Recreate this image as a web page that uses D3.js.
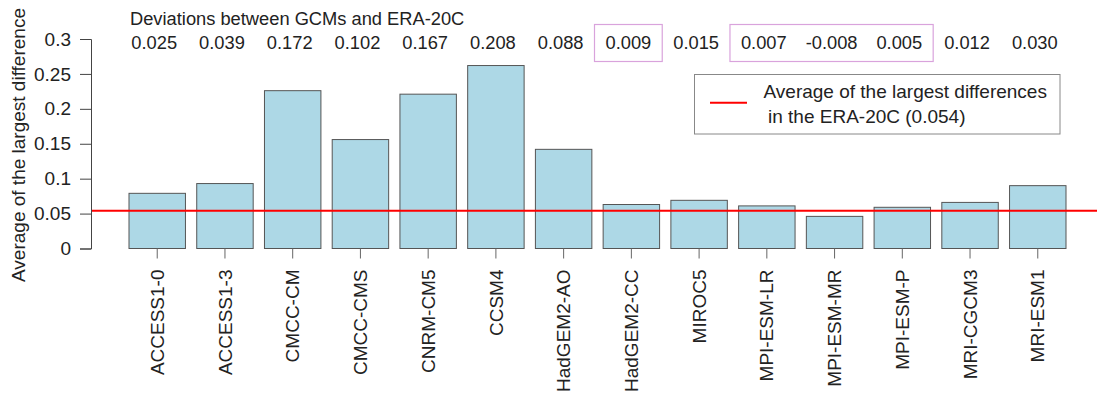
<!DOCTYPE html>
<html>
<head>
<meta charset="utf-8">
<script src="https://cdn.jsdelivr.net/npm/d3@7"></script>
<style>
  html, body { margin: 0; padding: 0; background: #fff; }
  svg { display: block; font-family: "Liberation Sans", Arial, Helvetica, sans-serif; }
</style>
</head>
<body>
<svg id="chart" width="1097" height="396"></svg>
<script>
// GCM names, bar heights (average of the largest differences) and deviations from ERA-20C
const models = ["ACCESS1-0", "ACCESS1-3", "CMCC-CM", "CMCC-CMS", "CNRM-CM5", "CCSM4", "HadGEM2-AO",
                "HadGEM2-CC", "MIROC5", "MPI-ESM-LR", "MPI-ESM-MR", "MPI-ESM-P", "MRI-CGCM3", "MRI-ESM1"];
const largestDiff = [0.079, 0.093, 0.226, 0.156, 0.221, 0.262, 0.142,
                     0.063, 0.069, 0.061, 0.046, 0.059, 0.066, 0.090];
const deviations = ["0.025", "0.039", "0.172", "0.102", "0.167", "0.208", "0.088",
                    "0.009", "0.015", "0.007", "-0.008", "0.005", "0.012", "0.030"];
const eraAverage = 0.054;
const yTicks = [0, 0.05, 0.1, 0.15, 0.2, 0.25, 0.3];
const yTickLabels = ["0", "0.05", "0.1", "0.15", "0.2", "0.25", "0.3"];
// groups of models outlined in the deviation row (first..last index)
const highlightGroups = [[7, 7], [9, 11]];

const svg = d3.select("#chart");

const x = d3.scaleBand().domain(models).range([129, 1066])
  .paddingInner(0.2 / 1.2).paddingOuter(0);
const y = d3.scaleLinear().domain([0, 0.3]).range([248.5, 39]);
const step = x.step();
const cx = d => x(d) + x.bandwidth() / 2;

// bars
svg.append("g").selectAll("rect").data(models).join("rect")
  .attr("x", d => x(d))
  .attr("y", (d, i) => y(largestDiff[i]))
  .attr("width", x.bandwidth())
  .attr("height", (d, i) => y(0) - y(largestDiff[i]))
  .attr("fill", "#add8e6")
  .attr("stroke", "#555")
  .attr("stroke-width", 1);

// ERA-20C reference line
svg.append("line")
  .attr("x1", 91).attr("x2", 1097)
  .attr("y1", y(eraAverage)).attr("y2", y(eraAverage))
  .attr("stroke", "#ff0000").attr("stroke-width", 2);

// y axis
const yAxis = d3.axisLeft(y).tickValues(yTicks)
  .tickFormat((d, i) => yTickLabels[i]).tickSizeOuter(0).tickSize(11).tickPadding(9);
const gy = svg.append("g").attr("transform", "translate(91,0)").call(yAxis);
gy.select(".domain").attr("stroke", "#444");
gy.selectAll(".tick line").attr("stroke", "#444");
gy.selectAll(".tick text").attr("font-size", 19).attr("fill", "#222")
  .attr("font-family", "Liberation Sans, Arial, sans-serif");

svg.append("text")
  .attr("transform", "translate(25,145) rotate(-90)")
  .attr("text-anchor", "middle")
  .attr("font-size", 19).attr("fill", "#222")
  .text("Average of the largest difference");

// x axis: ticks at bar centres, rotated model names
const xAxis = d3.axisBottom(x).tickSize(10).tickSizeOuter(0).tickPadding(0);
const gx = svg.append("g").attr("transform", `translate(0,${y(0)})`).call(xAxis);
gx.select(".domain").remove();
gx.selectAll(".tick line").attr("stroke", "#666");
gx.selectAll(".tick text")
  .attr("font-size", 19).attr("fill", "#222")
  .attr("font-family", "Liberation Sans, Arial, sans-serif")
  .attr("text-anchor", "end")
  .attr("transform", "translate(0,21) rotate(-90)")
  .attr("x", 0).attr("y", 0).attr("dy", "0.35em");

// title and deviation row
svg.append("text")
  .attr("x", 130).attr("y", 24.5)
  .attr("font-size", 18.3).attr("fill", "#222")
  .text("Deviations between GCMs and ERA-20C");

svg.append("g").selectAll("text").data(models).join("text")
  .attr("x", d => cx(d) - 3)
  .attr("y", 49)
  .attr("text-anchor", "middle")
  .attr("font-size", 18.3).attr("fill", "#222")
  .text((d, i) => deviations[i]);

svg.append("g").selectAll("rect").data(highlightGroups).join("rect")
  .attr("x", g => cx(models[g[0]]) - step / 2 - 3)
  .attr("y", 24.5)
  .attr("width", g => (g[1] - g[0] + 1) * step)
  .attr("height", 37)
  .attr("fill", "none")
  .attr("stroke", "#d9a3dc")
  .attr("stroke-width", 1.2);

// legend
const lg = svg.append("g");
lg.append("rect")
  .attr("x", 694.5).attr("y", 74.5).attr("width", 365.5).attr("height", 59.5)
  .attr("fill", "#fff").attr("stroke", "#888").attr("stroke-width", 1);
lg.append("line")
  .attr("x1", 710).attr("x2", 747).attr("y1", 102.7).attr("y2", 102.7)
  .attr("stroke", "#ff0000").attr("stroke-width", 2);
lg.append("text").attr("x", 763.5).attr("y", 98.3)
  .attr("font-size", 19).attr("fill", "#222")
  .text("Average of the largest differences");
lg.append("text").attr("x", 768).attr("y", 123.3)
  .attr("font-size", 19).attr("fill", "#222")
  .text("in the ERA-20C (0.054)");
</script>
</body>
</html>
